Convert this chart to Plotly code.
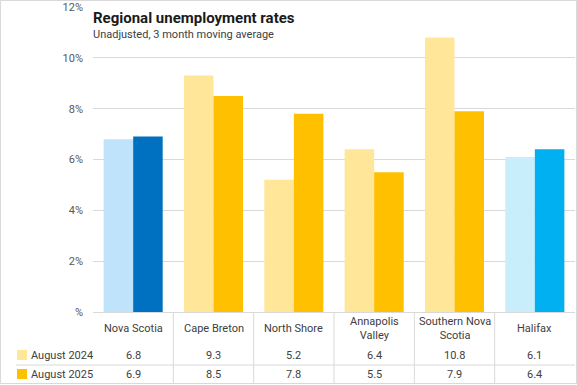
import plotly.graph_objects as go

regions = ["Nova Scotia", "Cape Breton", "North Shore", "Annapolis Valley",
           "Southern Nova Scotia", "Halifax"]
region_labels = ["Nova Scotia", "Cape Breton", "North Shore", "Annapolis<br>Valley",
                 "Southern Nova<br>Scotia", "Halifax"]
aug_2024 = [6.8, 9.3, 5.2, 6.4, 10.8, 6.1]
aug_2025 = [6.9, 8.5, 7.8, 5.5, 7.9, 6.4]
series_names = ["August 2024", "August 2025"]
y_ticks = [0, 2, 4, 6, 8, 10, 12]
y_ticktext = ["%", "2%", "4%", "6%", "8%", "10%", "12%"]

light_colors = ["#BFE3FA", "#FFE699", "#FFE699", "#FFE699", "#FFE699", "#C8EEFC"]
dark_colors = ["#0070C0", "#FFC000", "#FFC000", "#FFC000", "#FFC000", "#00B0F0"]

W, H = 577, 385
L, R, T, B = 93, 2, 7, 73
pw, ph = W - L - R, H - T - B


def px(x):
    return (x - L) / pw


def py(y):
    return (H - B - y) / ph


fig = go.Figure()
fig.add_trace(go.Bar(x=regions, y=aug_2024, name=series_names[0],
                     marker=dict(color=light_colors, line=dict(width=0)),
                     hovertemplate="%{x}: %{y}%<extra>August 2024</extra>"))
fig.add_trace(go.Bar(x=regions, y=aug_2025, name=series_names[1],
                     marker=dict(color=dark_colors, line=dict(width=0)),
                     hovertemplate="%{x}: %{y}%<extra>August 2025</extra>"))

font_family = "Roboto, 'Noto Sans', sans-serif"
text_col = "#404040"

annotations = [
    dict(text="<b>Regional unemployment rates</b>", x=px(91), y=py(18), xref="paper", yref="paper",
         xanchor="left", yanchor="middle", showarrow=False,
         font=dict(size=15, color="#1a1a1a", family=font_family)),
    dict(text="Unadjusted, 3 month moving average", x=px(91), y=py(34), xref="paper", yref="paper",
         xanchor="left", yanchor="middle", showarrow=False,
         font=dict(size=11, color=text_col, family=font_family)),
]
for i, r in enumerate(regions):
    annotations.append(dict(text=region_labels[i], x=r, xref="x", y=py(328), yref="paper",
                            xanchor="center", yanchor="middle", showarrow=False,
                            font=dict(size=11, color=text_col, family=font_family)))
    annotations.append(dict(text=f"{aug_2024[i]:.1f}", x=r, xref="x", y=py(355), yref="paper",
                            xanchor="center", yanchor="middle", showarrow=False,
                            font=dict(size=11, color=text_col, family=font_family)))
    annotations.append(dict(text=f"{aug_2025[i]:.1f}", x=r, xref="x", y=py(374), yref="paper",
                            xanchor="center", yanchor="middle", showarrow=False,
                            font=dict(size=11, color=text_col, family=font_family)))
for name, yy in zip(series_names, [355, 374]):
    annotations.append(dict(text=name, x=px(29), y=py(yy), xref="paper", yref="paper",
                            xanchor="left", yanchor="middle", showarrow=False,
                            font=dict(size=11, color=text_col, family=font_family)))

line_col = "#D9D9D9"
shapes = [
    # chart border
    dict(type="rect", xref="paper", yref="paper", x0=px(0.5), x1=px(576.5), y0=py(0.5), y1=py(383.5),
         line=dict(color=line_col, width=1), fillcolor="rgba(0,0,0,0)", layer="below"),
    # table horizontal separator
    dict(type="line", xref="paper", yref="paper", x0=px(16), x1=1, y0=py(365), y1=py(365),
         line=dict(color=line_col, width=1)),
    # legend keys
    dict(type="rect", xref="paper", yref="paper", x0=px(17), x1=px(27), y0=py(350), y1=py(360),
         line=dict(width=0), fillcolor="#FFE699"),
    dict(type="rect", xref="paper", yref="paper", x0=px(17), x1=px(27), y0=py(369), y1=py(379),
         line=dict(width=0), fillcolor="#FFC000"),
]
for i in range(len(regions) - 1):
    shapes.append(dict(type="line", xref="x", yref="paper", x0=i + 0.5, x1=i + 0.5,
                       y0=0, y1=py(383.5), line=dict(color=line_col, width=1)))

fig.update_layout(
    width=W, height=H,
    margin=dict(l=L, r=R, t=T, b=B),
    paper_bgcolor="white", plot_bgcolor="white",
    barmode="group", bargap=0.265, bargroupgap=0,
    showlegend=False,
    font=dict(family=font_family, color=text_col),
    xaxis=dict(range=[-0.5, 5.5], showticklabels=False, ticks="", showgrid=False,
               showline=True, linecolor=line_col, linewidth=1, zeroline=False, fixedrange=True),
    yaxis=dict(range=[0, 12], tickvals=y_ticks, ticktext=y_ticktext, showgrid=True,
               gridcolor=line_col, gridwidth=1, zeroline=False, showline=False,
               tickfont=dict(size=11, color="#595959", family=font_family), ticklen=0,
               ticklabelstandoff=9, fixedrange=True),
    annotations=annotations,
    shapes=shapes,
)

fig.write_html("out.html", config={"displayModeBar": False},
               post_script="document.body.style.margin='0';document.body.style.overflow='hidden';")
